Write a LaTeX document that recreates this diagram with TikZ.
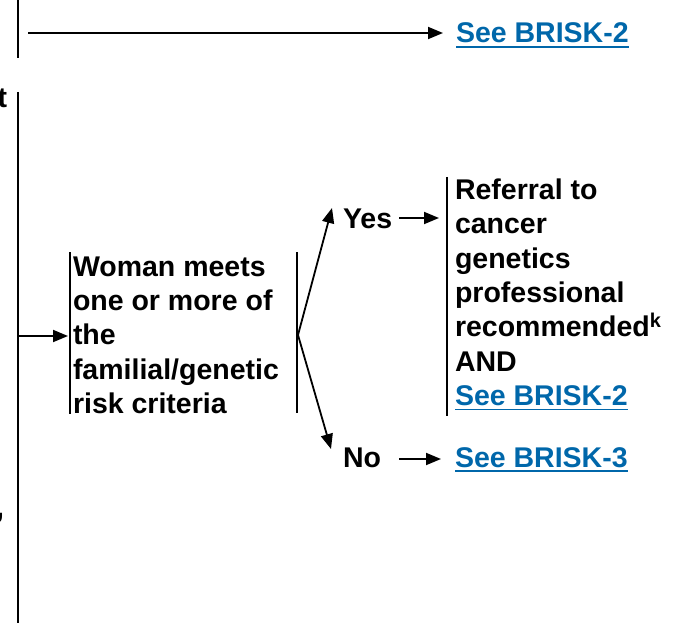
\documentclass[tikz,border=0pt]{standalone}
\usepackage{fontspec}
\setmainfont{Liberation Sans}
\usetikzlibrary{arrows.meta}
\definecolor{linkblue}{RGB}{0,103,170}
\newcommand\lnk[1]{{\color{linkblue}\setbox0\hbox{#1}\rlap{\rule[-5pt]{\wd0}{1.8pt}}\box0}}
\begin{document}
\begin{tikzpicture}[x=1pt,y=-1pt,
  every node/.style={inner sep=0pt,outer sep=0pt,font=\fontsize{28.5}{34.3}\selectfont\bfseries},
  txt/.style={align=left,anchor=north west},
  bar/.style={line width=2pt},
  arr/.style={line width=1.8pt,-{Triangle[length=15pt,width=12pt]}},
  lbl/.style={anchor=base west}]
\useasboundingbox (0,0) rectangle (675,623);
% left trunk lines
\coordinate (v1t) at (18,0);
\coordinate (v1b) at (18,58);
\coordinate (v2t) at (18,92);
\coordinate (v2b) at (18,623);
\draw[bar] (v1t) -- (v1b);
\draw[bar] (v2t) -- (v2b);
% clipped text fragments at left edge
\node[anchor=base east] (frag1) at (7,108) {t};
\node[anchor=base west] (frag2) at (-4,517) {,};
% top link
\coordinate (a1) at (28,33);
\coordinate (a1e) at (443,33);
\node[lbl] (top) at (456,43) {\lnk{See BRISK-2}};
\draw[arr] (a1) -- (a1e);
% woman box
\coordinate (wl1) at (70,252);
\coordinate (wl2) at (70,414);
\draw[bar] (wl1) -- (wl2);
\node[txt] (w) at (73,256.6) {Woman meets\\one or more of\\the\\familial/genetic\\risk criteria};
\coordinate (a2) at (19,336);
\coordinate (a2e) at (68,336);
\draw[arr] (a2) -- (a2e);
% right bar of woman box and branch
\coordinate (wr1) at (297,252);
\coordinate (wr2) at (297,413);
\draw[bar] (wr1) -- (wr2);
\coordinate (br) at (298,335);
\coordinate (yt) at (332,208);
\coordinate (nt) at (331,449);
\draw[arr] (br) -- (yt);
\draw[arr] (br) -- (nt);
% yes branch
\node[lbl] (yes) at (343,228) {Yes};
\coordinate (ya) at (399,218);
\coordinate (yb) at (439,218);
\draw[arr] (ya) -- (yb);
\coordinate (rb1) at (447,177);
\coordinate (rb2) at (447,416);
\draw[bar] (rb1) -- (rb2);
\node[txt] (ref) at (455,179) {Referral to\\cancer\\genetics\\professional\\recommended\textsuperscript{k}\\AND\\\lnk{See BRISK-2}};
% no branch
\node[lbl] (no) at (343,467) {No};
\coordinate (na) at (399,459);
\coordinate (nb) at (441,459);
\draw[arr] (na) -- (nb);
\node[lbl] (b3) at (455,467) {\lnk{See BRISK-3}};
\end{tikzpicture}
\end{document}
